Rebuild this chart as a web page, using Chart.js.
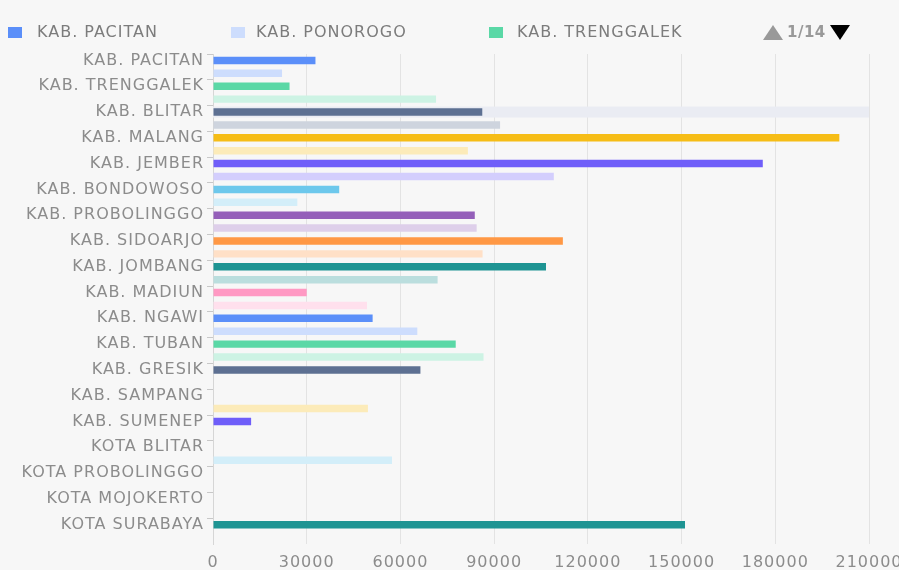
<!DOCTYPE html>
<html>
<head>
<meta charset="utf-8">
<script src="https://cdn.jsdelivr.net/npm/chart.js@4/dist/chart.umd.min.js"></script>
<style>
  html, body { margin: 0; padding: 0; background: #f7f7f7; }
  .wrap { position: relative; width: 899px; height: 570px; }
  .legend { position: absolute; left: 0; top: 0; width: 899px; height: 50px;
    font-family: "DejaVu Sans", sans-serif; font-size: 16px; color: #7c7c7c; letter-spacing: 1px; }
  .legend span { position: absolute; white-space: nowrap; }
  .legend .box { width: 14px; height: 11px; top: 27px; }
  .legend .txt { top: 22px; line-height: 20px; }
  .legend .pager { top: 22px; height: 20px; line-height: 20px; letter-spacing: 0;
    display: flex; align-items: center; }
  .legend .pager span { position: static; }
  .up { display: inline-block; width: 0; height: 0; border-left: 10px solid transparent;
    border-right: 10px solid transparent; border-bottom: 15px solid #999; }
  .down { display: inline-block; width: 0; height: 0; border-left: 10px solid transparent;
    border-right: 10px solid transparent; border-top: 15px solid #000; }
  .page { color: #999; font-size: 15px; font-weight: bold; margin: 0 4px 0 4px; letter-spacing: 0.5px; }
</style>
</head>
<body>
<div class="wrap">
  <div class="legend" id="legend"></div>
  <canvas id="myChart" width="899" height="570"></canvas>
</div>
<script>
const regions = [
  "KAB. PACITAN", "KAB. PONOROGO", "KAB. TRENGGALEK", "KAB. TULUNGAGUNG",
  "KAB. BLITAR", "KAB. KEDIRI", "KAB. MALANG", "KAB. LUMAJANG",
  "KAB. JEMBER", "KAB. BANYUWANGI", "KAB. BONDOWOSO", "KAB. SITUBONDO",
  "KAB. PROBOLINGGO", "KAB. PASURUAN", "KAB. SIDOARJO", "KAB. MOJOKERTO",
  "KAB. JOMBANG", "KAB. NGANJUK", "KAB. MADIUN", "KAB. MAGETAN",
  "KAB. NGAWI", "KAB. BOJONEGORO", "KAB. TUBAN", "KAB. LAMONGAN",
  "KAB. GRESIK", "KAB. BANGKALAN", "KAB. SAMPANG", "KAB. PAMEKASAN",
  "KAB. SUMENEP", "KOTA KEDIRI", "KOTA BLITAR", "KOTA MALANG",
  "KOTA PROBOLINGGO", "KOTA PASURUAN", "KOTA MOJOKERTO", "KOTA MADIUN",
  "KOTA SURABAYA", "KOTA BATU"
];
const values = [
  32800, 22100, 24500, 71400,
  86200, 91900, 200500, 81600,
  176000, 109100, 40400, 27000,
  83800, 84400, 112000, 86300,
  106600, 71900, 30000, 49300,
  51100, 65400, 77700, 86600,
  66400, 0, 0, 49600,
  12200, 0, 0, 57300,
  0, 0, 0, 0,
  151100, 0
];
const xTicks = [0, 30000, 60000, 90000, 120000, 150000, 180000, 210000];
const palette = [
  "#5B8FF9", "#CDDDFD", "#5AD8A6", "#CDF3E4", "#5D7092", "#CED4DE",
  "#F6BD16", "#FCEBB9", "#6F5EF9", "#D3CEFD", "#6DC8EC", "#D3EEF9",
  "#945FB9", "#DECFEA", "#FF9845", "#FFE0C7", "#1E9493", "#BBDEDE",
  "#FF99C3", "#FFE0ED"
];
const highlighted = "KAB. BLITAR";

// legend (first page only, like the original)
const legend = document.getElementById("legend");
const legendPos = [
  { box: 8, txt: 37 },
  { box: 231, txt: 256 },
  { box: 489, txt: 517 },
];
legendPos.forEach((p, i) => {
  legend.insertAdjacentHTML(
    "beforeend",
    `<span class="box" style="left:${p.box}px;background:${palette[i]}"></span>` +
      `<span class="txt" style="left:${p.txt}px">${regions[i]}</span>`
  );
});
legend.insertAdjacentHTML(
  "beforeend",
  `<span class="pager" style="left:763px"><span class="up"></span>` +
    `<span class="page">1/14</span><span class="down"></span></span>`
);

// wider text spacing on the canvas, to match the original lettering
const letterSpacing = {
  id: "letterSpacing",
  beforeLayout(chart) {
    chart.ctx.letterSpacing = "1px";
  },
  beforeDraw(chart) {
    chart.ctx.letterSpacing = "1px";
  },
};

// hover shadow behind the highlighted row
const rowShadow = {
  id: "rowShadow",
  beforeDatasetsDraw(chart) {
    const { ctx, chartArea, scales } = chart;
    const y = scales.y.getPixelForValue(regions.indexOf(highlighted));
    ctx.save();
    ctx.fillStyle = "#eaecf3";
    ctx.fillRect(chartArea.left, y - 5.5, chartArea.right - chartArea.left, 11);
    ctx.restore();
  },
};

const datasets = regions.map((name, i) => ({
  label: name,
  data: regions.map((_, j) => (j === i ? values[i] : null)),
  backgroundColor: palette[i % palette.length],
  barPercentage: 0.58,
  categoryPercentage: 1,
}));

const ctx = document.getElementById("myChart").getContext("2d");
new Chart(ctx, {
  type: "bar",
  data: { labels: regions, datasets },
  plugins: [letterSpacing, rowShadow],
  options: {
    indexAxis: "y",
    responsive: false,
    animation: false,
    layout: { padding: { top: 54, right: 30, left: 0, bottom: 0 } },
    plugins: {
      legend: { display: false },
      tooltip: { enabled: false },
    },
    scales: {
      x: {
        stacked: true,
        min: 0,
        max: 210000,
        afterBuildTicks: (scale) => {
          scale.ticks = xTicks.map((v) => ({ value: v }));
        },
        afterFit: (scale) => {
          scale.height = 26;
          scale.paddingRight = 0;
          scale.paddingLeft = 0;
        },
        grid: { color: "#e3e3e3", drawTicks: false },
        border: { display: false },
        ticks: {
          color: "#8c8c8c",
          padding: 9,
          font: { family: "DejaVu Sans", size: 16 },
          callback: (v) => String(v),
        },
      },
      y: {
        stacked: true,
        afterFit: (scale) => {
          scale.width = 213;
        },
        grid: {
          drawOnChartArea: false,
          tickLength: 6,
          tickColor: (c) => (c.index % 2 === 0 ? "#c8c8c8" : "rgba(0,0,0,0)"),
        },
        border: { color: "#d6d6d6" },
        ticks: {
          autoSkip: false,
          padding: 3,
          color: "#8c8c8c",
          font: { family: "DejaVu Sans", size: 16 },
          callback: (v, i) => (i % 2 === 0 ? regions[i] : ""),
        },
      },
    },
  },
});
</script>
</body>
</html>
